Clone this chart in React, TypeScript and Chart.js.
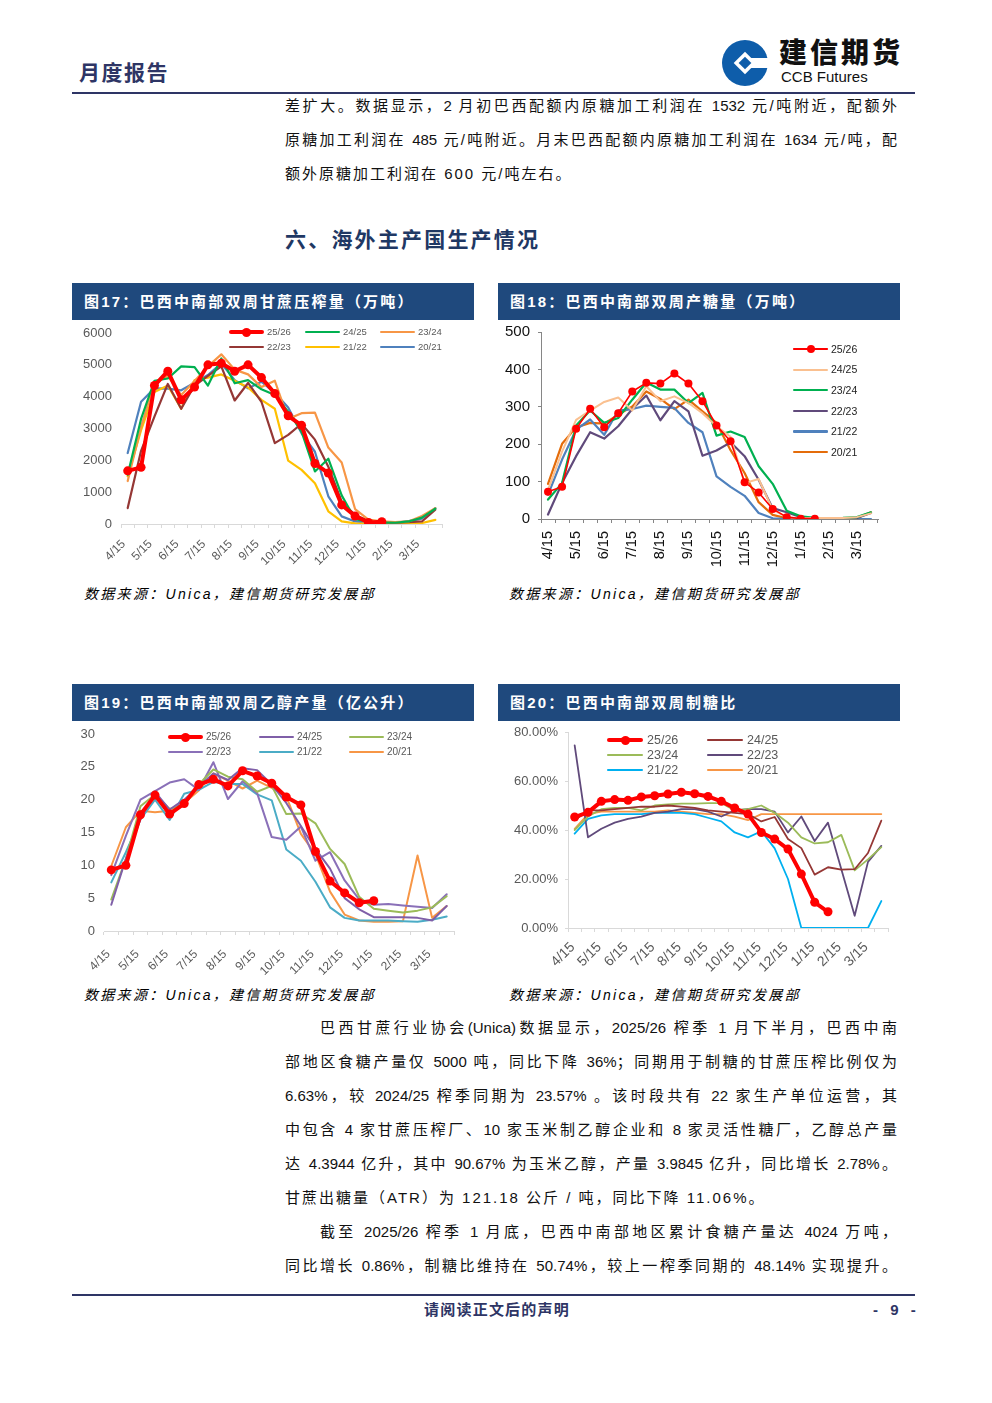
import React, { useEffect, useRef } from 'react';
import { Chart, registerables } from 'chart.js';

Chart.register(...registerables);

// ---------- categories / tick labels ----------
const categories = ['4/15', '5/1', '5/15', '6/1', '6/15', '7/1', '7/15', '8/1', '8/15', '9/1', '9/15', '10/1', '10/15', '11/1', '11/15', '12/1', '12/15', '1/1', '1/15', '2/1', '2/15', '3/1', '3/15', '4/1'];
const tickLabels = ['4/15', '', '5/15', '', '6/15', '', '7/15', '', '8/15', '', '9/15', '', '10/15', '', '11/15', '', '12/15', '', '1/15', '', '2/15', '', '3/15', ''];
const seasons = ['25/26', '24/25', '23/24', '22/23', '21/22', '20/21'];

// ---------- Fig 17: cane crush (10k t) ----------
const crush2526 = [1670, 1780, 4350, 4800, 3900, 4300, 5000, 5050, 4800, 5000, 4600, 4100, 3400, 3100, 1900, 1600, 600, 250, 50, 70, null, null, null, null];
const crush2425 = [1550, 3300, 4500, 4570, 4950, 4930, 4350, 5200, 4420, 4520, 4230, 4050, 3530, 2900, 1650, 2050, 900, 150, 70, 50, 40, 80, 200, 480];
const crush2324 = [1350, 3050, 4420, 4650, 4050, 4490, 4950, 5330, 4850, 4700, 4300, 4500, 3300, 3480, 3500, 2400, 1930, 470, 140, 80, 60, 80, 250, 500];
const crush2223 = [500, 2300, 3370, 4400, 3620, 4350, 4650, 4950, 3880, 4430, 3840, 2540, 2800, 3150, 2650, 1800, 700, 280, 100, 50, 40, 60, 80, 450];
const crush2122 = [1500, 2950, 4150, 4350, 3620, 4520, 4600, 4700, 4500, 4290, 3900, 3620, 1990, 1700, 1280, 400, 80, 20, 10, 10, 10, 20, 30, 130];
const crush2021 = [2230, 3840, 4260, 4250, 4200, 4440, 4680, 5050, 4520, 4260, 4470, 4120, 3660, 2850, 2270, 870, 240, 80, 40, 30, 40, 90, 170, 500];

// ---------- Fig 18: sugar output (10k t) ----------
const sugar2526 = [73, 86, 241, 295, 245, 283, 341, 364, 362, 389, 362, 315, 250, 208, 98, 71, 27, 5, 1, 1, null, null, null, null];
const sugar2425 = [78, 180, 265, 290, 313, 325, 290, 355, 315, 328, 310, 283, 248, 220, 96, 107, 25, 5, 2, 3, 3, 3, 5, 15];
const sugar2324 = [52, 96, 250, 290, 257, 270, 319, 365, 346, 346, 310, 337, 223, 234, 219, 141, 94, 22, 7, 3, 2, 3, 5, 18];
const sugar2223 = [12, 96, 168, 232, 215, 248, 294, 330, 264, 315, 288, 169, 183, 205, 168, 105, 29, 18, 5, 2, 2, 2, 3, 16];
const sugar2122 = [65, 159, 239, 266, 225, 290, 294, 303, 300, 297, 257, 232, 114, 86, 62, 16, 2, 0, 0, 0, 0, 0, 0, 0];
const sugar2021 = [94, 201, 245, 257, 255, 279, 301, 341, 321, 294, 319, 288, 257, 184, 123, 45, 11, 2, 1, 1, 1, 1, 3, 18];

// ---------- Fig 19: ethanol output (100m L) ----------
const eth2526 = [9.3, 10.0, 17.7, 20.7, 17.8, 19.4, 22.3, 23.1, 22.1, 24.4, 23.6, 22.5, 20.4, 19.2, 12.1, 7.6, 5.8, 4.3, 4.6, null, null, null, null, null];
const eth2425 = [4.0, 11.0, 17.0, 21.2, 18.5, 20.0, 22.0, 24.0, 23.0, 24.8, 24.5, 22.3, 19.5, 16.0, 12.5, 9.5, 5.0, 3.3, 2.1, 2.1, 2.1, 2.0, 1.6, 3.8];
const eth2324 = [4.8, 11.0, 19.0, 20.8, 18.6, 19.2, 22.3, 24.6, 23.5, 23.1, 21.2, 22.1, 17.8, 17.9, 16.4, 12.5, 10.2, 5.2, 3.4, 3.1, 2.8, 3.1, 3.6, 5.3];
const eth2223 = [8.5, 14.5, 20.0, 21.3, 22.6, 23.1, 21.5, 25.7, 20.1, 22.8, 21.0, 14.3, 13.9, 15.9, 10.7, 12.0, 7.7, 4.8, 4.0, 4.1, 3.9, 3.7, 3.5, 5.6];
const eth2122 = [7.4, 12.0, 17.0, 20.0, 16.9, 20.9, 21.5, 22.7, 22.4, 22.4, 20.8, 19.9, 12.4, 10.7, 7.5, 3.6, 2.0, 1.6, 1.6, 1.6, 1.5, 1.4, 1.7, 2.2];
const eth2021 = [9.9, 15.8, 18.3, 18.1, 18.3, 19.5, 21.4, 24.0, 22.9, 21.7, 22.9, 21.8, 20.5, 14.8, 11.7, 6.0, 2.5, 1.6, 1.4, 1.4, 1.5, 11.5, 2.0, 3.8];

// ---------- Fig 20: sugar mix (%) ----------
const mix2526 = [45.3, 47.2, 51.7, 52.4, 52.1, 53.5, 54.0, 54.7, 55.4, 54.8, 53.7, 51.7, 49.0, 46.5, 39.0, 36.3, 32.2, 22.0, 10.5, 6.63, null, null, null, null];
const mix2425 = [44.0, 48.0, 48.0, 48.5, 49.0, 49.5, 49.5, 50.0, 49.5, 49.0, 48.0, 47.5, 47.0, 46.5, 43.5, 45.3, 36.3, 32.6, 21.8, 24.8, 23.8, 24.0, 30.6, 43.8];
const mix2324 = [40.0, 45.5, 48.5, 49.0, 49.0, 48.0, 50.0, 50.5, 50.8, 50.8, 51.0, 51.0, 48.0, 48.5, 50.0, 47.0, 43.0, 37.0, 34.5, 35.0, 38.0, 23.5, 28.0, 33.0];
const mix2223 = [74.5, 37.0, 40.5, 43.0, 44.5, 45.5, 47.0, 47.5, 48.5, 48.5, 47.5, 45.5, 48.0, 48.5, 48.5, 47.5, 39.0, 45.5, 35.5, 43.0, 24.0, 5.0, 27.0, 33.5];
const mix2122 = [38.5, 44.5, 46.0, 46.5, 46.5, 46.5, 47.0, 47.0, 47.0, 46.5, 45.0, 43.5, 39.0, 37.0, 39.5, 32.5, 20.0, 0, 0, 0, 0, 0, 0, 11.0];
const mix2021 = [40.5, 46.5, 47.5, 47.5, 47.5, 47.5, 47.5, 48.0, 47.5, 47.0, 46.5, 46.5, 45.5, 44.0, 46.5, 46.5, 46.5, 46.5, 46.5, 46.5, 46.5, 46.5, 46.5, 46.5];

// ---------- styles ----------
type SeriesStyle = { color: string; width: number; marker?: number };

const fig17Styles: SeriesStyle[] = [
  { color: '#FF0000', width: 4, marker: 4.5 },
  { color: '#00B050', width: 2.2 },
  { color: '#F79646', width: 2.2 },
  { color: '#953735', width: 2.2 },
  { color: '#FFC000', width: 2.2 },
  { color: '#4F81BD', width: 2.2 },
];
const fig18Styles: SeriesStyle[] = [
  { color: '#FF0000', width: 1.6, marker: 4 },
  { color: '#FAC090', width: 2 },
  { color: '#00B050', width: 2.2 },
  { color: '#604A7B', width: 2.2 },
  { color: '#4F81BD', width: 2.2 },
  { color: '#E46C0A', width: 2.2 },
];
const fig19Styles: SeriesStyle[] = [
  { color: '#FF0000', width: 4, marker: 4.5 },
  { color: '#7F5FA8', width: 2 },
  { color: '#9BBB59', width: 2 },
  { color: '#8A70B8', width: 2 },
  { color: '#4BACC6', width: 2 },
  { color: '#F79646', width: 2 },
];
const fig20Styles: SeriesStyle[] = [
  { color: '#FF0000', width: 4, marker: 4.5 },
  { color: '#953735', width: 1.8 },
  { color: '#9BBB59', width: 1.8 },
  { color: '#604A7B', width: 1.8 },
  { color: '#00B0F0', width: 1.8 },
  { color: '#F79646', width: 1.8 },
];

const FONT = '"Liberation Sans", "Noto Sans CJK SC", sans-serif';
const CJK = '"Liberation Sans", "Noto Sans CJK SC", sans-serif';

type Spec = {
  left: number; top: number; w: number; h: number;
  series: (number | null)[][]; styles: SeriesStyle[];
  yMax: number; yStep: number; yFmt?: (v: number) => string;
  yWidth: number; xHeight: number; padRight: number; padTop: number;
  xFont: number; yFont: number; tickColor: string;
  rotation: number; xPad: number; yPad: number; yAxis: boolean; labelOffset: number;
  axisColor: string;
};

function LineChart({ spec }: { spec: Spec }) {
  const ref = useRef<HTMLCanvasElement>(null);
  useEffect(() => {
    const s = spec;
    const chart = new Chart(ref.current as HTMLCanvasElement, {
      type: 'line',
      data: {
        labels: categories,
        datasets: s.series.map((d, i) => ({
          label: seasons[i],
          data: d,
          borderColor: s.styles[i].color,
          backgroundColor: s.styles[i].color,
          borderWidth: s.styles[i].width,
          pointRadius: s.styles[i].marker || 0,
          pointBackgroundColor: s.styles[i].color,
          pointBorderWidth: 0,
          tension: 0,
          fill: false,
          spanGaps: false,
          borderJoinStyle: 'round' as const,
          borderCapStyle: 'round' as const,
        })),
      },
      options: {
        responsive: false,
        maintainAspectRatio: false,
        animation: false,
        layout: { padding: { left: 0, right: s.padRight, top: s.padTop, bottom: 0 } },
        plugins: { legend: { display: false }, tooltip: { enabled: false } },
        scales: {
          x: {
            type: 'category',
            offset: true,
            grid: { display: true, offset: true, drawOnChartArea: false, drawTicks: true, tickLength: 4, color: s.axisColor },
            border: { display: true, color: s.axisColor, width: 1 },
            ticks: {
              autoSkip: false,
              minRotation: s.rotation,
              maxRotation: s.rotation,
              padding: s.xPad,
              labelOffset: s.labelOffset,
              color: s.tickColor,
              font: { family: FONT, size: s.xFont },
              callback: (_v: any, i: number) => tickLabels[i],
            },
            afterFit: (sc: any) => {
              sc.height = s.xHeight;
              sc.paddingLeft = 0;
              sc.paddingRight = 0;
            },
          },
          y: {
            type: 'linear',
            min: 0,
            max: s.yMax,
            grid: { display: s.yAxis, drawOnChartArea: false, drawTicks: s.yAxis, tickLength: 3, color: s.axisColor },
            border: { display: s.yAxis, color: s.axisColor, width: 1 },
            ticks: {
              stepSize: s.yStep,
              padding: s.yPad,
              color: s.tickColor,
              font: { family: FONT, size: s.yFont },
              callback: (v: any) => (s.yFmt ? s.yFmt(Number(v)) : String(v)),
            },
            afterFit: (sc: any) => {
              sc.width = s.yWidth;
              sc.paddingTop = 0;
              sc.paddingBottom = 0;
            },
          },
        },
      },
    } as any);
    return () => chart.destroy();
  }, []);
  return (
    <canvas
      ref={ref}
      width={spec.w}
      height={spec.h}
      style={{ position: 'absolute', left: spec.left, top: spec.top, width: spec.w, height: spec.h }}
    />
  );
}

type LegendItem = { label: string; style: SeriesStyle; x: number; y: number };
function Legend({ items, fontSize, color, lineLen, gap }: { items: LegendItem[]; fontSize: number; color: string; lineLen: number; gap: number }) {
  return (
    <>
      {items.map((it, i) => {
        const w = it.style.width;
        return (
          <React.Fragment key={i}>
            <div style={{ position: 'absolute', left: it.x, top: it.y - w / 2, width: lineLen, height: w, background: it.style.color, borderRadius: w / 2 }} />
            {it.style.marker ? (
              <div style={{ position: 'absolute', left: it.x + lineLen / 2 - it.style.marker, top: it.y - it.style.marker, width: it.style.marker * 2, height: it.style.marker * 2, borderRadius: '50%', background: it.style.color }} />
            ) : null}
            <div style={{ position: 'absolute', left: it.x + lineLen + gap, top: it.y - fontSize * 0.6, fontSize, lineHeight: `${fontSize * 1.2}px`, color, fontFamily: FONT, whiteSpace: 'nowrap' }}>{it.label}</div>
          </React.Fragment>
        );
      })}
    </>
  );
}

function TitleBar({ x, y, text }: { x: number; y: number; text: string }) {
  return (
    <div style={{ position: 'absolute', left: x, top: y, width: 402, height: 37, background: '#1F497D', color: '#fff', fontFamily: CJK, fontSize: 15, fontWeight: 700, lineHeight: '37px', paddingLeft: 12, boxSizing: 'border-box', letterSpacing: 2.2, whiteSpace: 'nowrap' }}>
      {text}
    </div>
  );
}

function Source({ x, y }: { x: number; y: number }) {
  return (
    <div style={{ position: 'absolute', left: x, top: y - 10, fontFamily: CJK, fontSize: 14, lineHeight: '20px', fontStyle: 'italic', letterSpacing: 2.3, color: '#000', whiteSpace: 'nowrap' }}>
      数据来源：Unica，建信期货研究发展部
    </div>
  );
}

const topLines = [
  { t: '差扩大。数据显示，2 月初巴西配额内原糖加工利润在 1532 元/吨附近，配额外', j: true, indent: false },
  { t: '原糖加工利润在 485 元/吨附近。月末巴西配额内原糖加工利润在 1634 元/吨，配', j: true, indent: false },
  { t: '额外原糖加工利润在 600 元/吨左右。', j: false, indent: false },
];
const bottomLines = [
  { t: '巴西甘蔗行业协会(Unica)数据显示，2025/26 榨季 1 月下半月，巴西中南', j: true, indent: true },
  { t: '部地区食糖产量仅 5000 吨，同比下降 36%；同期用于制糖的甘蔗压榨比例仅为', j: true, indent: false },
  { t: '6.63%，较 2024/25 榨季同期为 23.57% 。该时段共有 22 家生产单位运营，其', j: true, indent: false },
  { t: '中包含 4 家甘蔗压榨厂、10 家玉米制乙醇企业和 8 家灵活性糖厂，乙醇总产量', j: true, indent: false },
  { t: '达 4.3944 亿升，其中 90.67% 为玉米乙醇，产量 3.9845 亿升，同比增长 2.78%。', j: true, indent: false },
  { t: '甘蔗出糖量（ATR）为 121.18 公斤 / 吨，同比下降 11.06%。', j: false, indent: false },
  { t: '截至 2025/26 榨季 1 月底，巴西中南部地区累计食糖产量达 4024 万吨，', j: true, indent: true },
  { t: '同比增长 0.86%，制糖比维持在 50.74%，较上一榨季同期的 48.14% 实现提升。', j: true, indent: false },
];

function TextLines({ lines, y0 }: { lines: { t: string; j: boolean; indent: boolean }[]; y0: number }) {
  return (
    <>
      {lines.map((l, i) => (
        <div key={i} style={{ position: 'absolute', left: l.indent ? 320 : 285, top: y0 + i * 34 - 17, width: l.indent ? 577 : 612, height: 34, lineHeight: '34px', fontSize: 15, fontFamily: CJK, color: '#111', textAlign: 'justify', textAlignLast: l.j ? 'justify' : 'left', letterSpacing: l.j ? 0 : 2, whiteSpace: l.j ? 'normal' : 'nowrap' } as any}>
          {l.t}
        </div>
      ))}
    </>
  );
}

function legendGrid(styles: SeriesStyle[], pos: [number, number][]): LegendItem[] {
  return seasons.map((s, i) => ({ label: s, style: styles[i], x: pos[i][0], y: pos[i][1] }));
}

export default function App() {
  const spec17: Spec = {
    left: 72, top: 320, w: 402, h: 260,
    series: [crush2526, crush2425, crush2324, crush2223, crush2122, crush2021], styles: fig17Styles,
    yMax: 6000, yStep: 1000, yWidth: 49, xHeight: 56, padRight: 32, padTop: 13,
    xFont: 12, yFont: 13, tickColor: '#595959', rotation: 45, xPad: 9, yPad: 9, yAxis: false, labelOffset: -4,
    axisColor: '#D9D9D9',
  };
  const spec18: Spec = {
    left: 498, top: 320, w: 402, h: 260,
    series: [sugar2526, sugar2425, sugar2324, sugar2223, sugar2122, sugar2021], styles: fig18Styles,
    yMax: 500, yStep: 100, yWidth: 43, xHeight: 61, padRight: 22, padTop: 12,
    xFont: 14.5, yFont: 15, tickColor: '#111', rotation: 90, xPad: 8, yPad: 8, yAxis: true, labelOffset: 0,
    axisColor: '#868686',
  };
  const spec19: Spec = {
    left: 72, top: 720, w: 402, h: 260,
    series: [eth2526, eth2425, eth2324, eth2223, eth2122, eth2021], styles: fig19Styles,
    yMax: 30, yStep: 5, yWidth: 32, xHeight: 49, padRight: 20, padTop: 14,
    xFont: 12, yFont: 13, tickColor: '#595959', rotation: 45, xPad: 12, yPad: 9, yAxis: false, labelOffset: -3,
    axisColor: '#D9D9D9',
  };
  const spec20: Spec = {
    left: 498, top: 720, w: 402, h: 260,
    series: [mix2526, mix2425, mix2324, mix2223, mix2122, mix2021], styles: fig20Styles,
    yMax: 80, yStep: 20, yFmt: (v) => v.toFixed(2) + '%', yWidth: 70, xHeight: 52, padRight: 12, padTop: 12,
    xFont: 14, yFont: 13, tickColor: '#595959', rotation: 45, xPad: 7, yPad: 7, yAxis: true, labelOffset: -2,
    axisColor: '#D9D9D9',
  };

  return (
    <div style={{ position: 'absolute', left: 0, top: 0, width: 992, height: 1403, background: '#fff', overflow: 'hidden' }}>
      {/* header */}
      <div style={{ position: 'absolute', left: 79, top: 58, fontFamily: CJK, fontSize: 21, fontWeight: 700, color: '#2E3565', letterSpacing: 1.5, lineHeight: '30px' }}>月度报告</div>
      <svg style={{ position: 'absolute', left: 721, top: 39 }} width={48} height={48} viewBox="0 0 48 48">
        <circle cx={24} cy={24} r={23} fill="#0E5DAA" />
        <rect x={24} y={19} width={26} height={10} fill="#fff" />
        <rect x={16} y={16} width={16} height={16} fill="#fff" transform="rotate(45 24 24)" />
        <rect x={19.5} y={19.5} width={9} height={9} fill="#0E5DAA" transform="rotate(45 24 24)" />
      </svg>
      <div style={{ position: 'absolute', left: 779, top: 36, fontFamily: CJK, fontSize: 28, fontWeight: 900, color: '#111', lineHeight: '36px', letterSpacing: 3 }}>建信期货</div>
      <div style={{ position: 'absolute', left: 781, top: 68, fontFamily: FONT, fontSize: 15, color: '#111', lineHeight: '18px' }}>CCB Futures</div>
      <div style={{ position: 'absolute', left: 72, top: 92, width: 843, height: 2, background: '#2E3565' }} />

      <TextLines lines={topLines} y0={106} />

      <div style={{ position: 'absolute', left: 285, top: 225, fontFamily: CJK, fontSize: 21, fontWeight: 700, color: '#1F3864', letterSpacing: 2.2, lineHeight: '30px' }}>六、海外主产国生产情况</div>

      {/* Fig 17 */}
      <TitleBar x={72} y={283} text="图17：巴西中南部双周甘蔗压榨量（万吨）" />
      <LineChart spec={spec17} />
      <Legend
        items={legendGrid(fig17Styles, [[229, 332], [305, 332], [380, 332], [229, 347], [305, 347], [380, 347]])}
        fontSize={9.5} color="#595959" lineLen={35} gap={3}
      />
      <Source x={84} y={594} />

      {/* Fig 18 */}
      <TitleBar x={498} y={283} text="图18：巴西中南部双周产糖量（万吨）" />
      <LineChart spec={spec18} />
      <Legend
        items={legendGrid(fig18Styles, [[793, 349], [793, 369.5], [793, 390], [793, 411], [793, 431.5], [793, 452]])}
        fontSize={10.5} color="#222" lineLen={35} gap={3}
      />
      <Source x={509} y={594} />

      {/* Fig 19 */}
      <TitleBar x={72} y={684} text="图19：巴西中南部双周乙醇产量（亿公升）" />
      <LineChart spec={spec19} />
      <Legend
        items={legendGrid(fig19Styles, [[168, 737], [259, 737], [349, 737], [168, 752], [259, 752], [349, 752]])}
        fontSize={10} color="#595959" lineLen={35} gap={3}
      />
      <Source x={84} y={995} />

      {/* Fig 20 */}
      <TitleBar x={498} y={684} text="图20：巴西中南部双周制糖比" />
      <LineChart spec={spec20} />
      <Legend
        items={legendGrid(fig20Styles, [[607, 740], [707, 740], [607, 755], [707, 755], [607, 770], [707, 770]])}
        fontSize={12.5} color="#595959" lineLen={36} gap={4}
      />
      <Source x={509} y={995} />

      <TextLines lines={bottomLines} y0={1028} />

      {/* footer */}
      <div style={{ position: 'absolute', left: 72, top: 1294, width: 843, height: 2, background: '#2E3565' }} />
      <div style={{ position: 'absolute', left: 0, width: 994, top: 1299, textAlign: 'center', fontFamily: CJK, fontSize: 15, fontWeight: 700, color: '#2E3565', letterSpacing: 1.2, lineHeight: '22px' }}>请阅读正文后的声明</div>
      <div style={{ position: 'absolute', left: 873, top: 1299, fontFamily: FONT, fontSize: 15, fontWeight: 700, color: '#2E3565', lineHeight: '22px', whiteSpace: 'pre', letterSpacing: 4 }}>- 9 -</div>
    </div>
  );
}
